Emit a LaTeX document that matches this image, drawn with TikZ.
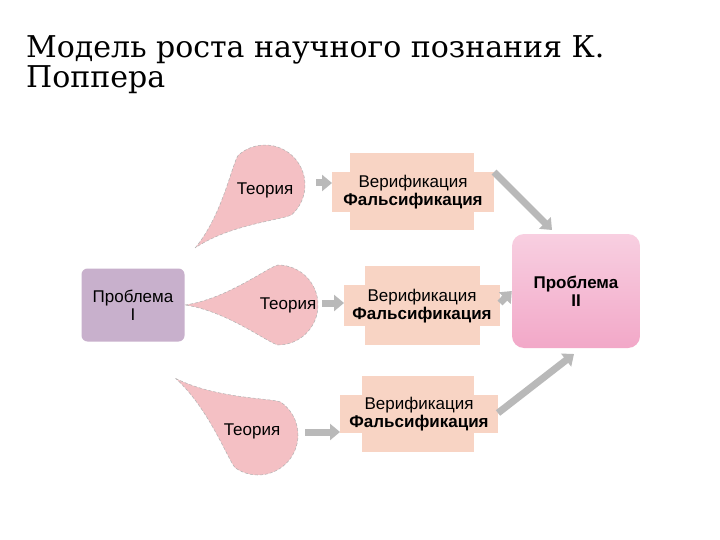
\documentclass[tikz,border=0pt]{standalone}
\usepackage{fontspec}
\setmainfont{Liberation Sans}
\newfontfamily\titlefont{DejaVu Serif}
\usetikzlibrary{arrows.meta}
\definecolor{boxc}{HTML}{F8D4C4}
\definecolor{dropc}{HTML}{F4C0C4}
\definecolor{probI}{HTML}{C8B0CC}
\definecolor{probII}{HTML}{F2A8C8}
\tikzset{
 txt/.style={font=\fontsize{17}{18}\selectfont, align=center, inner sep=0pt},
 blk/.style={draw=gray!55, line width=7pt, -{Triangle[length=10pt,width=16pt]}},
 dropstyle/.style={fill=dropc, draw=gray!60, densely dashed, line width=0.5pt},
 crossbox/.style={fill=boxc, draw=none},
}
\newcommand{\teardrop}[4]{% cx, cy, angle, d  (r=40)
 \begin{scope}[shift={(#1,#2)}, rotate=#3]
 \path[dropstyle] (#4,0) .. controls (0.55*#4,6) and (10,38) .. (0,40)
   arc (90:270:40) .. controls (10,-38) and (0.55*#4,-6) .. (#4,0);
 \end{scope}}
\begin{document}
\begin{tikzpicture}[x=1pt,y=-1pt]
\useasboundingbox (0,0) rectangle (720,540);
\fill[white] (0,0) rectangle (720,540);
\node[anchor=west, inner sep=0pt, align=left, font=\titlefont\fontsize{30}{30}\selectfont] (title) at (26,65) {Модель роста научного познания К.\\Поппера};
% teardrops
\teardrop{265}{185}{-138}{94}
\teardrop{278}{305}{180}{93}
\teardrop{258}{435}{-214.5}{100}
\node[txt] (t1) at (265,190) {Теория};
\node[txt] (t2) at (288,305) {Теория};
\node[txt] (t3) at (252,431) {Теория};
% boxes
\fill[crossbox] (350,153) rectangle (474,230);
\fill[crossbox] (332,172) rectangle (494,212);
\fill[crossbox] (365,266) rectangle (480,345);
\fill[crossbox] (344,285) rectangle (500,326);
\fill[crossbox] (362,376) rectangle (474,452);
\fill[crossbox] (340,395) rectangle (498,433);
\node[txt] (v1) at (413,192) {Верификация\\\textbf{Фальсификация}};
\node[txt] (v2) at (422,306) {Верификация\\\textbf{Фальсификация}};
\node[txt] (v3) at (419,414) {Верификация\\\textbf{Фальсификация}};
\coordinate (b1w) at (332,183); \coordinate (b1e) at (494,172);
\coordinate (b2w) at (344,303); \coordinate (b2e) at (500,303);
\coordinate (b3w) at (340,432); \coordinate (b3e) at (498,413);
% problems
\node[fill=probI, rounded corners=6pt, minimum width=103pt, minimum height=73pt, txt] (p1) at (133,305) {Проблема\\I};
\node[top color=probII!55, bottom color=probII, rounded corners=12pt, minimum width=128pt, minimum height=114pt, txt] (p2) at (576,291) {\textbf{Проблема}\\\textbf{II}};
% arrows
\coordinate (a1) at (316,183); \coordinate (a2) at (322,303); \coordinate (a3) at (305,432);
\draw[blk] (a1) -- (b1w);
\draw[blk] (a2) -- (b2w);
\draw[blk] (a3) -- (b3w);
\coordinate (e1) at (552,230); \coordinate (e3) at (574,354);
\draw[blk] (b1e) -- (e1);
\draw[blk] (b2e) -- (p2.west);
\draw[blk] (b3e) -- (e3);
\end{tikzpicture}
\end{document}
